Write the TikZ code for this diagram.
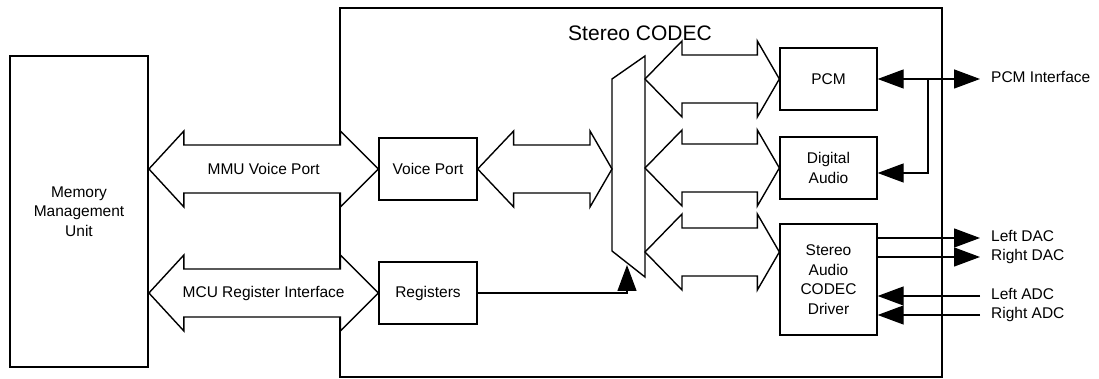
\documentclass[tikz,border=0pt]{standalone}
\usepackage{fontspec}
\setmainfont{Liberation Sans}
\usetikzlibrary{calc,arrows.meta}

\newcommand{\busarrow}[4]{%
  \draw[bus] (#1) -- ++(#3,38) -- ++(0,-14) -- ($(#2)+(-#4,24)$) -- ++(0,14)
    -- (#2) -- ++(-#4,-38) -- ++(0,14) -- ($(#1)+(#3,-24)$) -- ++(0,-14) -- cycle;}

\begin{document}
\begin{tikzpicture}[%
          x=1pt, y=1pt,
          font=\fontsize{15.5}{19.5}\selectfont,
          block/.style={draw, line width=1.3pt, align=center, inner sep=0pt,
                        minimum width=98, minimum height=62},
          bus/.style={draw, fill=white, line width=1.4pt, line join=miter},
          sig/.style={line width=1.3pt, -{Triangle[length=26pt,width=19pt]}},
          sigtext/.style={anchor=west, inner xsep=11pt, inner ysep=0pt,
                          text height=11pt, text depth=3.5pt}]

  \useasboundingbox (0,0) rectangle (1099,379);

  \node[draw, line width=1.8pt, minimum width=138, minimum height=311, align=center] (mmu) at (79,167.5) {Memory\\Management\\Unit};
  \node[draw, line width=1.8pt, minimum width=602, minimum height=369] (codec) at (641,186.5) {};
  \node (codectitle) at (640,346) {\fontsize{21}{24}\selectfont Stereo CODEC};

  \node[block] (vport) at (428,210) {Voice Port};
  \node[block] (regs) at (428,86) {Registers};
  \node[block, minimum width=97] (pcm) at (828.5,300) {PCM};
  \node[block, minimum width=97] (daudio) at (828.5,211) {Digital\\Audio};
  \node[block, minimum width=97, minimum height=111] (drv) at (828.5,99.5) {Stereo\\Audio\\CODEC\\Driver};

  \coordinate (mux-tl) at (612,300);
  \coordinate (mux-tr) at (645,323);
  \coordinate (mux-br) at (645,102);
  \coordinate (mux-bl) at (612,128);
  \draw[line width=1.4pt] (mux-tl) -- (mux-tr) -- (mux-br) -- (mux-bl) -- cycle;

  \coordinate (mmu-v) at (mmu.east |- vport.west);
  \coordinate (mmu-r) at (mmu.east |- regs.west);
  \coordinate (mux-in) at (mux-tl |- vport.east);
  \coordinate (mux-o1) at (mux-tr |- pcm.west);
  \coordinate (mux-o2) at (mux-tr |- daudio.west);
  \coordinate (mux-o3) at (645,127);
  \coordinate (drv-in) at (drv.west |- mux-o3);

  \busarrow{mmu-v}{vport.west}{35}{38}
  \busarrow{mmu-r}{regs.west}{35}{38}
  \busarrow{vport.east}{mux-in}{36}{22}
  \busarrow{mux-o1}{pcm.west}{37}{22}
  \busarrow{mux-o2}{daudio.west}{37}{22}
  \busarrow{mux-o3}{drv-in}{37}{22}

  \node (mmuvp) at ($(mmu-v)!0.5!(vport.west)$) {MMU Voice Port};
  \node (mcuri) at ($(mmu-r)!0.5!(regs.west)$) {MCU Register Interface};

  \coordinate (mux-sel) at (627,114);
  \draw[sig] (regs.east) -| (mux-sel);

  \coordinate (pcm-j) at (928,300);
  \node[sigtext] (pcmif) at (980,300) {PCM Interface};
  \draw[sig] (pcm-j) -- (pcm.east);
  \draw[sig] (pcm-j) -- (pcmif.west);
  \draw[sig] (pcm-j) |- ($(daudio.east)+(0,-5)$);

  \node[sigtext] (ldac) at (980,141) {Left DAC};
  \node[sigtext] (rdac) at (980,122) {Right DAC};
  \node[sigtext] (ladc) at (980,83) {Left ADC};
  \node[sigtext] (radc) at (980,64) {Right ADC};

  \draw[sig] (drv.east |- ldac.west) -- (ldac.west);
  \draw[sig] (drv.east |- rdac.west) -- (rdac.west);
  \draw[sig] (ladc.west) -- (drv.east |- ladc.west);
  \draw[sig] (radc.west) -- (drv.east |- radc.west);

\end{tikzpicture}
\end{document}
